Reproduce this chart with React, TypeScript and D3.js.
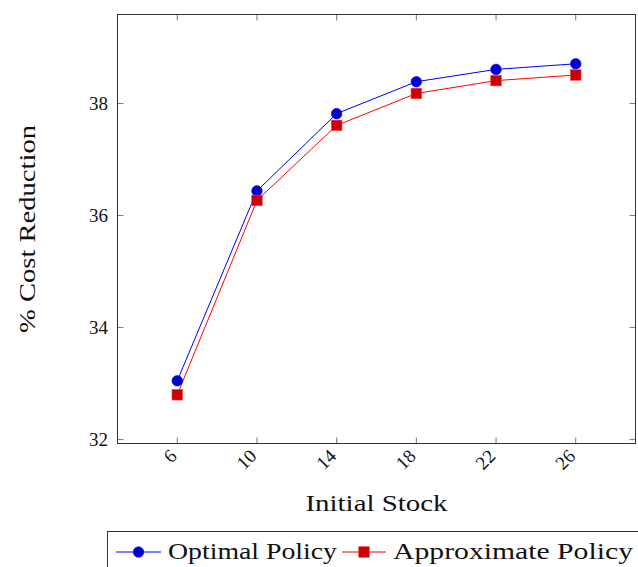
import React from "react";
import * as d3 from "d3";

const xValues = [6, 10, 14, 18, 22, 26];
const optimal = [33.05, 36.44, 37.82, 38.39, 38.61, 38.71];
const approximate = [32.8, 36.27, 37.61, 38.18, 38.41, 38.51];
const yTicks = [32, 34, 36, 38];
const seriesNames = ["Optimal Policy", "Approximate Policy"];

const W = 638;
const H = 567;
const left = 117.5, right = 635.5, top = 14.5, bottom = 443.5;
const FONT = "'Liberation Serif', 'DejaVu Serif', serif";

export default function App() {
  const x = d3.scaleLinear().domain([3, 29]).range([left, right]);
  const y = d3.scaleLinear().domain([31.93, 39.59]).range([bottom, top]);
  const line = d3
    .line<number>()
    .x((_, i) => x(xValues[i]))
    .y((d) => y(d));

  const tick = 6;
  return (
    <svg
      width={W}
      height={H}
      style={{ position: "absolute", left: 0, top: 0 }}
      fontFamily={FONT}
    >
      <rect x={0} y={0} width={W} height={H} fill="white" />
      {xValues.map((v) => (
        <g key={"xt" + v} stroke="#555" strokeWidth={0.8}>
          <line x1={x(v)} x2={x(v)} y1={bottom} y2={bottom - tick} />
          <line x1={x(v)} x2={x(v)} y1={top} y2={top + tick} />
        </g>
      ))}
      {yTicks.map((v) => (
        <g key={"yt" + v} stroke="#555" strokeWidth={0.8}>
          <line x1={left} x2={left + tick} y1={y(v)} y2={y(v)} />
          <line x1={right} x2={right - tick} y1={y(v)} y2={y(v)} />
        </g>
      ))}
      <rect
        x={left}
        y={top}
        width={right - left}
        height={bottom - top}
        fill="none"
        stroke="#333"
        strokeWidth={1}
      />
      {yTicks.map((v) => (
        <text
          key={"yl" + v}
          x={108}
          y={y(v)}
          dy="0.35em"
          textAnchor="end"
          fontSize={19}
          fill="#111"
        >
          {v}
        </text>
      ))}
      {xValues.map((v) => (
        <text
          key={"xl" + v}
          transform={`translate(${x(v) - 4},${bottom + 9}) rotate(-45)`}
          textAnchor="end"
          dy="0.35em"
          fontSize={19}
          fill="#111"
        >
          {v}
        </text>
      ))}
      <text
        x={(left + right) / 2}
        y={511}
        textAnchor="middle"
        fontSize={23}
        fill="#111"
        textLength={142}
        lengthAdjust="spacingAndGlyphs"
      >
        Initial Stock
      </text>
      <text
        transform={`translate(35,${(top + bottom) / 2}) rotate(-90)`}
        textAnchor="middle"
        fontSize={23}
        fill="#111"
        textLength={208}
        lengthAdjust="spacingAndGlyphs"
      >
        % Cost Reduction
      </text>
      <path d={line(optimal) || ""} fill="none" stroke="#0000ff" strokeWidth={1} />
      <path d={line(approximate) || ""} fill="none" stroke="#ff0000" strokeWidth={1} />
      {optimal.map((v, i) => (
        <circle
          key={"o" + i}
          cx={x(xValues[i])}
          cy={y(v)}
          r={5.3}
          fill="#0000cc"
          stroke="#0000ff"
          strokeWidth={0.6}
        />
      ))}
      {approximate.map((v, i) => (
        <rect
          key={"a" + i}
          x={x(xValues[i]) - 5.3}
          y={y(v) - 5.3}
          width={10.6}
          height={10.6}
          fill="#cc0000"
          stroke="#ff4444"
          strokeWidth={0.6}
        />
      ))}
      <rect x={107.5} y={531.5} width={540} height={50} fill="white" stroke="#333" strokeWidth={1} />
      <line x1={116} x2={161} y1={552} y2={552} stroke="#0000ff" strokeWidth={1} />
      <circle cx={138.5} cy={552} r={5.3} fill="#0000cc" stroke="#0000ff" strokeWidth={0.6} />
      <text x={168} y={559} fontSize={23} fill="#111" textLength={169} lengthAdjust="spacingAndGlyphs">
        {seriesNames[0]}
      </text>
      <line x1={342} x2={386} y1={552} y2={552} stroke="#ff0000" strokeWidth={1} />
      <rect x={358.7} y={546.7} width={10.6} height={10.6} fill="#cc0000" stroke="#ff4444" strokeWidth={0.6} />
      <text x={393} y={559} fontSize={23} fill="#111" textLength={240} lengthAdjust="spacingAndGlyphs">
        {seriesNames[1]}
      </text>
    </svg>
  );
}
